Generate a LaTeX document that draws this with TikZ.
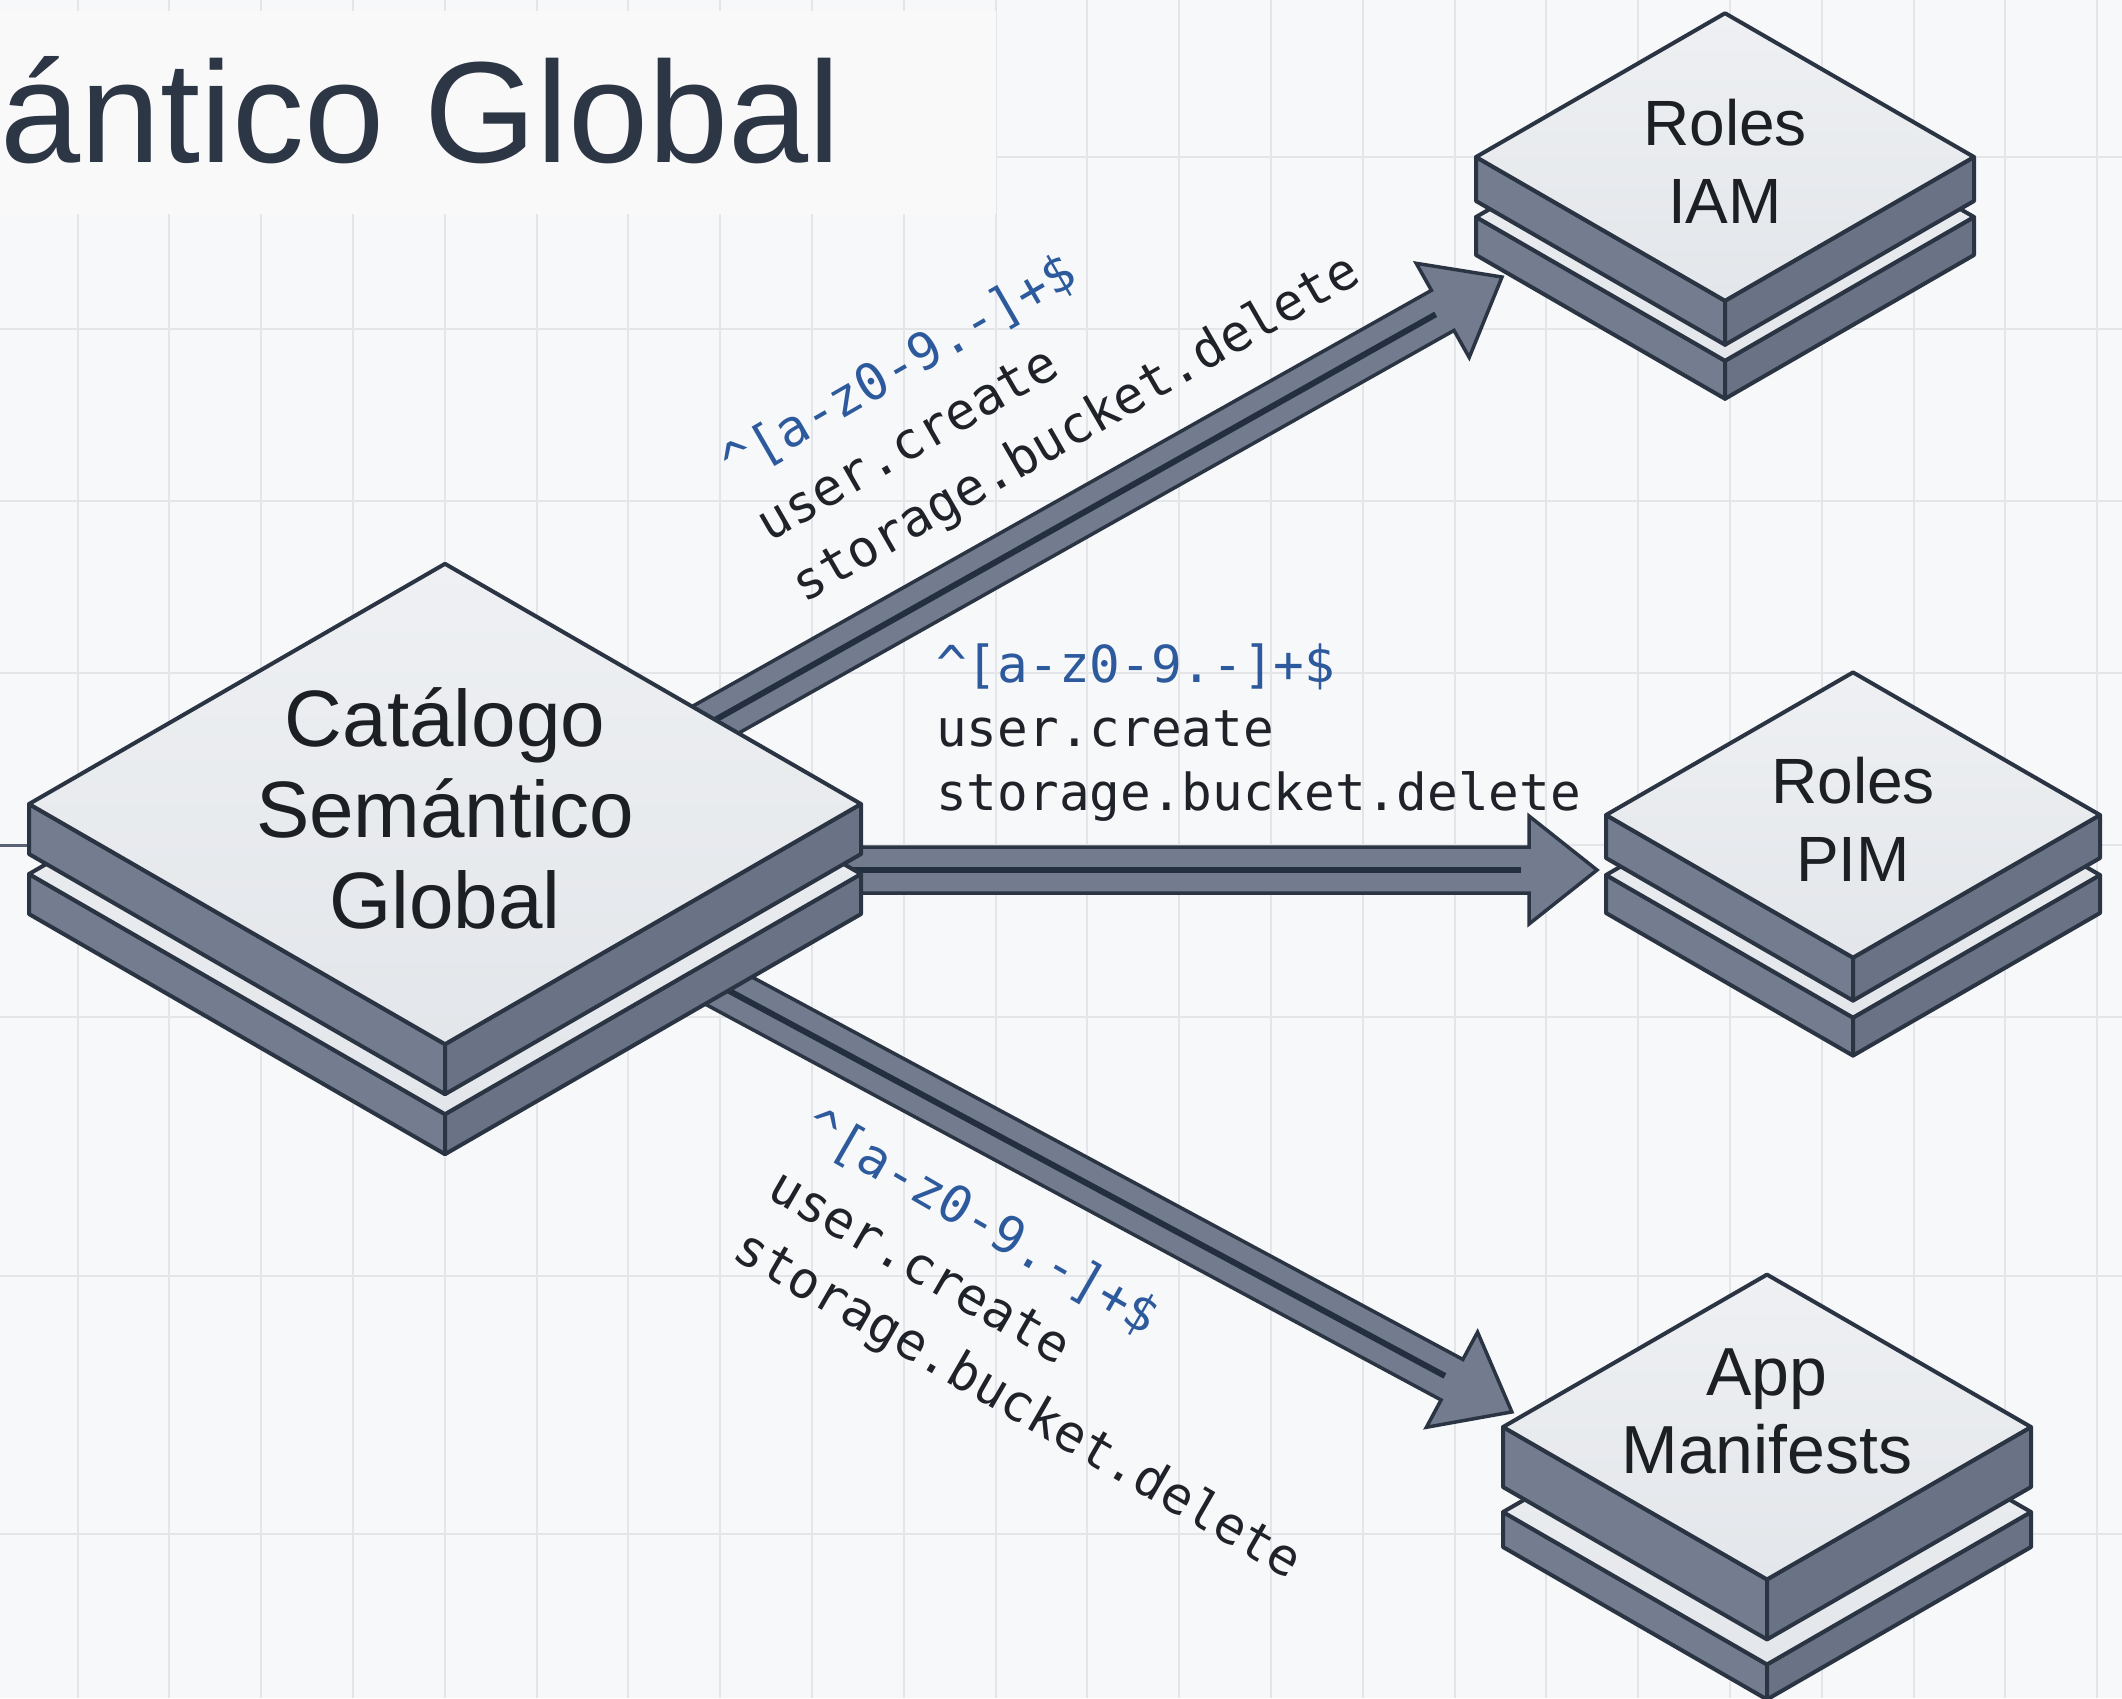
\documentclass[tikz,border=0pt]{standalone}
\usepackage{fontspec}
\setmainfont{Liberation Sans}
\newfontfamily\codefont{DejaVu Sans Mono}
\usetikzlibrary{calc}

\definecolor{pagec}{HTML}{F7F8F9}
\definecolor{titlebgc}{HTML}{F9F9FA}
\definecolor{gridc}{HTML}{E3E5E8}
\definecolor{ink}{HTML}{2A3443}
\definecolor{titlec}{HTML}{2C3645}
\definecolor{facetopc}{HTML}{EEF0F3}
\definecolor{facebotc}{HTML}{E3E6EA}
\definecolor{sidelc}{HTML}{747D8F}
\definecolor{siderc}{HTML}{6A7386}
\definecolor{shaftc}{HTML}{737C8E}
\definecolor{corec}{HTML}{232F3F}
\definecolor{textc}{HTML}{1C1F24}
\definecolor{codec}{HTML}{1F2329}
\definecolor{regexc}{HTML}{2D5A9C}
\definecolor{stubc}{HTML}{5A6373}

% one slab: centre of top face, half width, half height, thickness
\newcommand\drawslab[5]{%
  \path[sideleft] (#1-#3,#2) -- (#1,#2+#4) -- (#1,#2+#4+#5) -- (#1-#3,#2+#5) -- cycle;
  \path[sideright] (#1,#2+#4) -- (#1+#3,#2) -- (#1+#3,#2+#5) -- (#1,#2+#4+#5) -- cycle;
  \path[face] (#1-#3,#2) -- (#1,#2-#4) -- (#1+#3,#2) -- (#1,#2+#4) -- cycle;
}
% two stacked slabs: cx, cy, half width, top thickness, offset of lower slab, lower thickness
\newcommand\slabstack[6]{%
  \pgfmathsetmacro\slabhh{#3*0.5774}%
  \drawslab{#1}{#2+#5}{#3}{\slabhh}{#6}%
  \drawslab{#1}{#2}{#3}{\slabhh}{#4}%
}
% broad flow arrow from one named coordinate to another
\newcommand\flowarrow[2]{%
  \pgfpointdiff{\pgfpointanchor{#1}{center}}{\pgfpointanchor{#2}{center}}%
  \pgfgetlastxy{\flowdx}{\flowdy}%
  \pgfmathsetmacro\flowang{atan2(\flowdy,\flowdx)}%
  \pgfmathsetmacro\flowlen{veclen(\flowdx,\flowdy)}%
  \begin{scope}[shift={(#1)},rotate=\flowang]
    \path[arrowbody] (0,-23) -- (\flowlen-68,-23) -- (\flowlen-68,-54) -- (\flowlen,0)
      -- (\flowlen-68,54) -- (\flowlen-68,23) -- (0,23) -- cycle;
    \draw[arrowcore] (0,0) -- (\flowlen-76,0);
  \end{scope}%
}

\begin{document}
\begin{tikzpicture}[x=1pt,y=-1pt,
  gridline/.style={draw=gridc, line width=2},
  face/.style={top color=facetopc, bottom color=facebotc, draw=ink, line width=4, line join=round},
  sideleft/.style={fill=sidelc, draw=ink, line width=4, line join=round},
  sideright/.style={fill=siderc, draw=ink, line width=4, line join=round},
  arrowbody/.style={fill=shaftc, draw=ink, line width=3.5, line join=miter},
  arrowcore/.style={draw=corec, line width=6},
  nodetext/.style={align=center, inner sep=0, text=textc},
  codelabel/.style={align=left, inner sep=0, text=codec, font=\codefont\fontsize{51}{64}\selectfont},
  slantlabel/.style={codelabel, font=\codefont\fontsize{51}{70}\selectfont},
  stub/.style={draw=stubc, line width=3}]

\useasboundingbox (0,0) rectangle (2122,1698);
\fill[pagec] (0,0) rectangle (2122,1698);

% grid
\foreach \gx in {0,...,22} {\draw[gridline] ({77.5+91.8*\gx},0) -- ({77.5+91.8*\gx},1698);}
\foreach \gy in {157,329,501,673,845,1017,1276,1534} {\draw[gridline] (0,\gy) -- (2122,\gy);}

% title
\fill[titlebgc] (0,11) rectangle (995.5,214);
\node[anchor=base west, inner sep=0, text=titlec, font=\fontsize{144}{160}\selectfont] (title) at (0,162) {ántico Global};

% connection points
\coordinate (inlet) at (0,845);
\coordinate (catWest) at (31,845);
\coordinate (catOutIAM) at (445,872);
\coordinate (catOutPIM) at (445,870);
\coordinate (catOutApp) at (445,838);
\coordinate (iamIn) at (1502,277);
\coordinate (pimIn) at (1597,870);
\coordinate (appIn) at (1512,1412);

% connectors
\draw[stub] (inlet) -- (catWest);
\flowarrow{catOutIAM}{iamIn}
\flowarrow{catOutPIM}{pimIn}
\flowarrow{catOutApp}{appIn}

% permission labels
\node[slantlabel, rotate=30, anchor=south west] (lblIAM) at (810,613)
  {\textcolor{regexc}{\textasciicircum[a-z0-9.-]+\$}\\user.create\\storage.bucket.delete};
\node[codelabel, anchor=south west] (lblPIM) at (936,822)
  {\textcolor{regexc}{\textasciicircum[a-z0-9.-]+\$}\\user.create\\storage.bucket.delete};
\node[slantlabel, rotate=-30, anchor=south west] (lblApp) at (725,1267)
  {\textcolor{regexc}{\textasciicircum[a-z0-9.-]+\$}\\user.create\\storage.bucket.delete};

% stacked platforms
\slabstack{445}{804}{416}{50}{70}{40}
\slabstack{1725}{157}{249}{44}{60}{38}
\slabstack{1853}{815}{247}{43}{60}{38}
\slabstack{1767}{1427}{264}{60}{85}{35}

\node[nodetext, font=\fontsize{80}{91}\selectfont] (cat) at (445,808) {Catálogo\\Semántico\\Global};
\node[nodetext, font=\fontsize{64}{78}\selectfont] (iam) at (1725,161) {Roles\\IAM};
\node[nodetext, font=\fontsize{64}{78}\selectfont] (pim) at (1853,819) {Roles\\PIM};
\node[nodetext, font=\fontsize{68}{78}\selectfont] (app) at (1767,1411) {App\\Manifests};

\end{tikzpicture}
\end{document}
